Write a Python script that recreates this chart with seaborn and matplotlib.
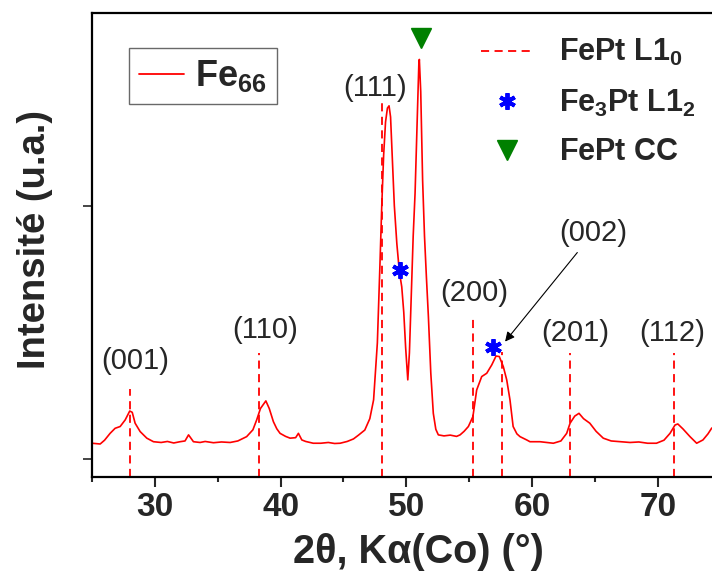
import numpy as np
import pandas as pd
import matplotlib
matplotlib.use("Agg")
import matplotlib.pyplot as plt
import seaborn as sns
from matplotlib.lines import Line2D
from matplotlib.legend_handler import HandlerLine2D
from matplotlib.ticker import MultipleLocator, FixedLocator, NullFormatter

# ---- data ----
two_theta = [25.0, 25.65, 26.0, 26.44, 26.84, 27.24, 27.64, 28.0, 28.2, 28.43, 28.83, 29.36, 29.89,
             30.5, 31.0, 31.5, 32.0, 32.4, 32.68, 33.07, 33.6, 34.0, 34.66, 35.3, 35.99, 36.6,
             37.3, 37.8, 38.1, 38.4, 38.83, 39.1, 39.43, 39.7, 39.96, 40.4, 40.76, 41.2, 41.42,
             41.69, 42.0, 42.6, 43.2, 43.8, 44.3, 44.74, 45.3, 45.8, 46.2, 46.7, 47.1, 47.4,
             47.7, 47.9, 48.05, 48.2, 48.35, 48.5, 48.63, 48.75, 48.9, 49.05, 49.25, 49.45,
             49.64, 49.8, 49.95, 50.12, 50.25, 50.4, 50.55, 50.7, 50.85, 51.0, 51.04, 51.15,
             51.3, 51.45, 51.6, 51.76, 51.95, 52.15, 52.35, 52.55, 53.0, 53.5, 54.0, 54.28,
             54.6, 54.94, 55.3, 55.6, 56.0, 56.4, 56.8, 57.14, 57.4, 57.72, 57.99, 58.25, 58.5,
             58.8, 59.05, 59.58, 59.84, 60.64, 61.2, 61.7, 62.3, 62.76, 63.03, 63.4, 63.74,
             64.1, 64.6, 65.1, 65.67, 66.3, 67.0, 67.8, 68.5, 69.2, 69.9, 70.5, 70.98, 71.38,
             71.6, 72.0, 72.57, 73.1, 73.6, 74.0, 74.3]
intensity = [63, 60, 75, 102, 122, 129, 155, 190, 185, 142, 109, 83, 69,
             66, 70, 64, 69, 72, 96, 69, 66, 70, 65, 68, 66, 72,
             89, 116, 155, 200, 230, 200, 148, 120, 102, 90, 83, 85, 102,
             76, 70, 63, 63, 66, 62, 63, 70, 80, 95, 115, 160, 234,
             459, 759, 1000, 1200, 1330, 1385, 1394, 1350, 1180, 1000, 850, 740,
             680, 580, 440, 313, 420, 650, 880, 1050, 1300, 1560, 1577, 1450,
             1100, 880, 720, 562, 340, 181, 118, 96, 92, 95, 90, 96,
             110, 129, 168, 273, 326, 339, 372, 407, 405, 365, 313, 234, 129,
             100, 89, 76, 69, 69, 66, 63, 72, 102, 142, 170, 181,
             160, 142, 110, 83, 72, 69, 66, 68, 63, 63, 75, 102, 135,
             139, 120, 89, 63, 76, 100, 123]

ref_pos = [28.0, 38.3, 48.05, 55.33, 57.64, 63.03, 71.33]        # FePt L1_0 reference lines
ref_top = [276, 418, 1413, 562, 424, 420, 420]
hkl_labels = ["(001)", "(110)", "(111)", "(200)", "(002)", "(201)", "(112)"]
label_x = [28.43, 38.75, 47.5, 55.39, 64.86, 63.42, 71.16]
label_y = [389, 509, 1463, 654, 892, 497, 497]

star_x = [49.5, 56.88]       # Fe3Pt L1_2
star_y = [746, 442]
tri_x = [51.15]              # FePt CC
tri_y = [1660]

xticks = [30, 40, 50, 60, 70]
yticks = [0, 1000]

# ---- style ----
sns.set_style("ticks")
plt.rcParams["font.family"] = ["Liberation Sans", "DejaVu Sans"]
plt.rcParams["mathtext.fontset"] = "custom"
plt.rcParams["mathtext.rm"] = "Liberation Sans"
plt.rcParams["mathtext.bf"] = "Liberation Sans:bold"
plt.rcParams["mathtext.it"] = "Liberation Sans:italic"

fig = plt.figure(figsize=(7.12, 5.73), dpi=100)
ax = fig.add_axes([92 / 712, 1 - 476.7 / 573, 1 - 92 / 712, (476.7 - 13.3) / 573])

df = pd.DataFrame({"two_theta": two_theta, "intensity": intensity})
sns.lineplot(data=df, x="two_theta", y="intensity", ax=ax, color="#ff0000",
             linewidth=1.2, sort=False, estimator=None)

ymin = -69
ax.vlines(ref_pos, ymin, ref_top, colors="#ff0000", linestyles=(0, (4.5, 3)), linewidth=1.3)

ax.plot(star_x, star_y, linestyle="none", marker=(6, 2, 0), markersize=12,
        markeredgewidth=2.8, color="#0000ff", zorder=5)
ax.plot(tri_x, tri_y, linestyle="none", marker="v", markersize=15, color="#008000", zorder=5)

for lab, lx, ly in zip(hkl_labels, label_x, label_y):
    if lab == "(002)":
        continue
    ax.text(lx, ly, lab, ha="center", va="center", fontsize=21)
i002 = hkl_labels.index("(002)")
ax.annotate("(002)", xy=(57.86, 464), xytext=(label_x[i002], label_y[i002]),
            ha="center", va="center", fontsize=21,
            arrowprops=dict(arrowstyle="-|>", color="black", lw=0.8, mutation_scale=14,
                            shrinkA=2, shrinkB=0))

ax.set_xlim(25, 74.32)
ax.set_ylim(ymin, 1759)
ax.xaxis.set_major_locator(FixedLocator(xticks))
ax.xaxis.set_minor_locator(MultipleLocator(5))
ax.yaxis.set_major_locator(FixedLocator(yticks))
ax.yaxis.set_major_formatter(NullFormatter())
ax.tick_params(axis="x", which="major", direction="out", length=7, width=1.5,
               labelsize=24, pad=4)
ax.tick_params(axis="x", which="minor", direction="out", length=3.5, width=1.5)
ax.tick_params(axis="y", which="major", direction="out", length=6.5, width=1.2)
for t in ax.get_xticklabels():
    t.set_fontweight("bold")
for side in ["left", "bottom", "top"]:
    ax.spines[side].set_linewidth(1.6)
    ax.spines[side].set_color("black")
ax.spines["right"].set_visible(False)
ax.spines["top"].set_visible(True)

ax.set_xlabel("2θ, Kα(Co) (°)", fontsize=28.5, fontweight="bold", labelpad=7)
ax.xaxis.label.set_x(0.527)
ax.set_ylabel("Intensité (u.a.)", fontsize=27.5, fontweight="bold", labelpad=18)
ax.yaxis.label.set_y(0.512)


class RightMarkerHandler(HandlerLine2D):
    def get_xdata(self, legend, xdescent, ydescent, width, height, fontsize):
        xdata, _ = super().get_xdata(legend, xdescent, ydescent, width, height, fontsize)
        return xdata, [-xdescent + width * 0.94]


h_fe = Line2D([], [], color="#ff0000", lw=1.3)
leg1 = ax.legend([h_fe], [r"$\mathbf{Fe_{66}}$"], loc="upper left",
                 bbox_to_anchor=(0.060, 0.925), fontsize=26, frameon=True, fancybox=False,
                 handlelength=1.25, handletextpad=0.3, borderpad=0.28, borderaxespad=0)
leg1.get_frame().set_edgecolor("#444444")
leg1.get_frame().set_linewidth(1.0)
ax.add_artist(leg1)

h_l10 = Line2D([], [], color="#ff0000", lw=1.3, linestyle=(0, (4.5, 3)))
h_star = Line2D([], [], linestyle="none", marker=(6, 2, 0), markersize=12,
                markeredgewidth=2.8, color="#0000ff")
h_tri = Line2D([], [], linestyle="none", marker="v", markersize=15, color="#008000")
leg2 = ax.legend([h_l10, h_star, h_tri],
                 [r"$\mathbf{FePt\ L1_0}$", r"$\mathbf{Fe_3Pt\ L1_2}$", r"$\mathbf{FePt\ CC}$"],
                 loc="upper left", bbox_to_anchor=(0.627, 0.948), fontsize=22, frameon=False,
                 handlelength=1.7, handletextpad=0.85, labelspacing=0.62, borderpad=0,
                 borderaxespad=0, numpoints=1,
                 handler_map={h_star: RightMarkerHandler(), h_tri: RightMarkerHandler()})

fig.savefig("out.png", dpi=100)
